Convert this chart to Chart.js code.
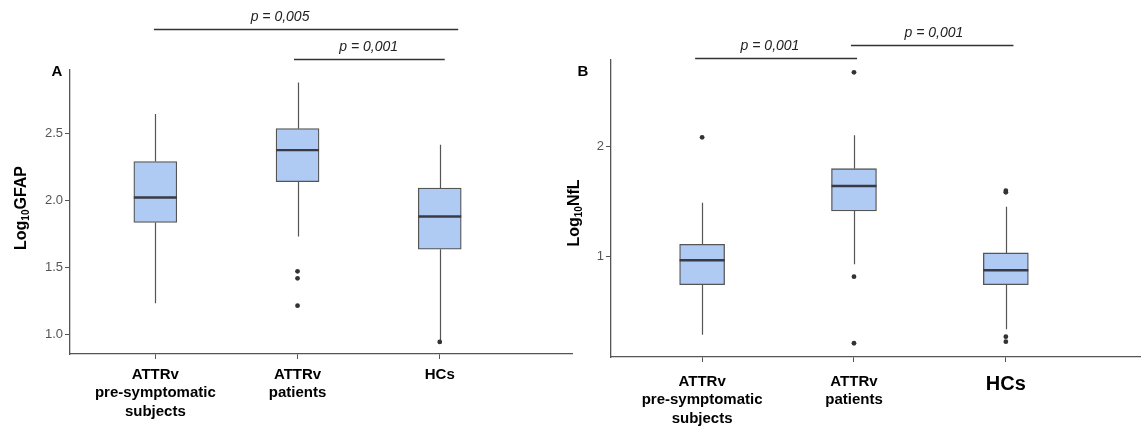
<!DOCTYPE html>
<html>
<head>
<meta charset="utf-8">
<script src="https://cdn.jsdelivr.net/npm/chart.js@4/dist/chart.umd.min.js"></script>
<style>
  html, body { margin: 0; padding: 0; background: #fff; }
  body { width: 1141px; height: 427px; position: relative; overflow: hidden; }
  canvas { position: absolute; top: 0; }
  #chartA { left: 0; }
  #chartB { left: 556px; }
</style>
</head>
<body>
<canvas id="chartA" width="576" height="427"></canvas>
<canvas id="chartB" width="589" height="427"></canvas>
<script>
const groupLabels = [
  ['ATTRv', 'pre-symptomatic', 'subjects'],
  ['ATTRv', 'patients'],
  ['HCs'],
];

// panel A: Log10 GFAP
const gfapLow = [1.234, 1.731, 0.96];
const gfapQ1 = [1.836, 2.14, 1.637];
const gfapMedian = [2.022, 2.375, 1.88];
const gfapQ3 = [2.29, 2.535, 2.092];
const gfapHigh = [2.645, 2.878, 2.415];
const gfapOutliers = [[], [1.472, 1.42, 1.216], [0.946]];
const gfapTicks = [1.0, 1.5, 2.0, 2.5];

// panel B: Log10 NfL
const nflLow = [0.29, 0.931, 0.34];
const nflQ1 = [0.745, 1.415, 0.745];
const nflMedian = [0.967, 1.643, 0.876];
const nflQ3 = [1.113, 1.80, 1.034];
const nflHigh = [1.49, 2.104, 1.455];
const nflOutliers = [[2.085], [2.676, 0.818, 0.213], [1.60, 1.585, 0.273, 0.227]];
const nflTicks = [1, 2];

// significance brackets (x in group units, y in axis units)
const gfapBrackets = [
  { x1: -0.01, x2: 2.13, y: 3.276, textX: 0.877, label: 'p = 0,005' },
  { x1: 0.975, x2: 2.035, y: 3.054, textX: 1.50, label: 'p = 0,001' },
];
const nflBrackets = [
  { x1: -0.046, x2: 1.02, y: 2.806, textX: 0.447, label: 'p = 0,001' },
  { x1: 0.98, x2: 2.05, y: 2.925, textX: 1.526, label: 'p = 0,001' },
];

const FONT = '"Liberation Sans", Arial, Helvetica, sans-serif';
const BOX_FILL = '#afcbf3';
const LINE = '#555555';

function outlierPoints(outliers) {
  const pts = [];
  outliers.forEach((list, i) => {
    list.forEach((v) => pts.push({ x: i, y: v }));
  });
  return pts;
}

const boxPlugin = {
  id: 'boxParts',
  beforeDatasetsDraw(chart) {
    const cfg = chart.options.plugins.boxParts;
    const xs = chart.scales.x;
    const ys = chart.scales.y;
    const ctx = chart.ctx;
    ctx.save();
    ctx.strokeStyle = LINE;
    ctx.lineWidth = 1.2;
    cfg.low.forEach((lo, i) => {
      const x = Math.round(xs.getPixelForValue(i)) + 0.5;
      ctx.beginPath();
      ctx.moveTo(x, ys.getPixelForValue(lo));
      ctx.lineTo(x, ys.getPixelForValue(cfg.q1[i]));
      ctx.moveTo(x, ys.getPixelForValue(cfg.q3[i]));
      ctx.lineTo(x, ys.getPixelForValue(cfg.high[i]));
      ctx.stroke();
    });
    ctx.restore();
  },
  afterDatasetsDraw(chart) {
    const cfg = chart.options.plugins.boxParts;
    const xs = chart.scales.x;
    const ys = chart.scales.y;
    const ctx = chart.ctx;
    ctx.save();
    ctx.strokeStyle = '#383b45';
    ctx.lineWidth = 2.4;
    cfg.median.forEach((m, i) => {
      const x = xs.getPixelForValue(i);
      const y = ys.getPixelForValue(m);
      ctx.beginPath();
      ctx.moveTo(x - cfg.width / 2, y);
      ctx.lineTo(x + cfg.width / 2, y);
      ctx.stroke();
    });
    ctx.restore();
  },
  afterDraw(chart) {
    const cfg = chart.options.plugins.boxParts;
    const xs = chart.scales.x;
    const ys = chart.scales.y;
    const ctx = chart.ctx;
    ctx.save();

    // brackets with p values
    ctx.strokeStyle = '#333';
    ctx.lineWidth = 1.3;
    ctx.fillStyle = '#222';
    ctx.font = 'italic 14px ' + FONT;
    ctx.textAlign = 'center';
    ctx.textBaseline = 'middle';
    cfg.brackets.forEach((b) => {
      const y = Math.round(ys.getPixelForValue(b.y)) + 0.5;
      ctx.beginPath();
      ctx.moveTo(xs.getPixelForValue(b.x1), y);
      ctx.lineTo(xs.getPixelForValue(b.x2), y);
      ctx.stroke();
      ctx.fillText(b.label, xs.getPixelForValue(b.textX), y - 12);
    });

    // panel letter
    ctx.fillStyle = '#000';
    ctx.font = 'bold 15px ' + FONT;
    ctx.fillText(cfg.letter, cfg.letterX, 72);

    // y axis title with subscript
    ctx.translate(cfg.titleX, cfg.titleY);
    ctx.rotate(-Math.PI / 2);
    const big = 'bold 16px ' + FONT;
    const small = 'bold 10px ' + FONT;
    ctx.font = big;
    const w1 = ctx.measureText('Log').width;
    const w3 = ctx.measureText(cfg.titleName).width;
    ctx.font = small;
    const w2 = ctx.measureText('10').width;
    let x = -(w1 + w2 + w3) / 2;
    ctx.textAlign = 'left';
    ctx.textBaseline = 'alphabetic';
    ctx.font = big;
    ctx.fillText('Log', x, 6);
    x += w1;
    ctx.font = small;
    ctx.fillText('10', x, 9);
    x += w2;
    ctx.font = big;
    ctx.fillText(cfg.titleName, x, 6);
    ctx.restore();
  },
};

function makeChart(canvasId, opts) {
  return new Chart(document.getElementById(canvasId), {
    type: 'bar',
    data: {
      datasets: [
        {
          type: 'bar',
          data: opts.q1.map((q, i) => ({ x: i, y: [q, opts.q3[i]] })),
          backgroundColor: BOX_FILL,
          borderColor: LINE,
          borderWidth: 1.3,
          borderSkipped: false,
          barThickness: opts.boxWidth,
        },
        {
          type: 'scatter',
          data: outlierPoints(opts.outliers),
          pointRadius: 2.4,
          pointBackgroundColor: '#333',
          pointBorderWidth: 0,
        },
      ],
    },
    options: {
      responsive: false,
      animation: false,
      devicePixelRatio: 1,
      layout: { padding: opts.padding },
      plugins: {
        legend: { display: false },
        tooltip: { enabled: false },
        boxParts: {
          low: opts.low,
          q1: opts.q1,
          median: opts.median,
          q3: opts.q3,
          high: opts.high,
          width: opts.boxWidth,
          brackets: opts.brackets,
          letter: opts.letter,
          letterX: opts.letterX,
          titleName: opts.titleName,
          titleX: opts.titleX,
          titleY: opts.titleY,
        },
      },
      scales: {
        x: {
          type: 'linear',
          min: -0.6,
          max: opts.xMax,
          offset: false,
          grid: { drawOnChartArea: false, tickLength: 5, color: LINE, offset: false },
          border: { color: LINE, width: 1.3 },
          afterBuildTicks(scale) {
            scale.ticks = groupLabels.map((_, i) => ({ value: i }));
          },
          afterFit(scale) {
            scale.height = opts.xHeight;
            scale.paddingLeft = 0;
            scale.paddingRight = 0;
          },
          ticks: {
            autoSkip: false,
            maxRotation: 0,
            padding: opts.xPad,
            color: '#000',
            font: (c) => ({
              family: FONT,
              weight: 'bold',
              size: c.index === 2 ? opts.lastLabelSize : 15,
              lineHeight: 1.25,
            }),
            callback: (value) => groupLabels[value],
          },
        },
        y: {
          min: opts.yMin,
          max: opts.yMax,
          grid: { drawOnChartArea: false, tickLength: 5, color: LINE },
          border: { color: LINE, width: 1.3 },
          afterBuildTicks(scale) {
            scale.ticks = opts.yTicks.map((v) => ({ value: v }));
          },
          afterFit(scale) {
            scale.width = opts.yWidth;
            scale.paddingTop = 0;
            scale.paddingBottom = 0;
          },
          ticks: {
            padding: 2,
            color: '#555',
            font: { family: FONT, size: 13 },
            callback: (value) => opts.tickFormat(value),
          },
        },
      },
    },
    plugins: [boxPlugin],
  });
}

makeChart('chartA', {
  low: gfapLow, q1: gfapQ1, median: gfapMedian, q3: gfapQ3, high: gfapHigh,
  outliers: gfapOutliers, brackets: gfapBrackets,
  boxWidth: 43, xMax: 2.93, yMin: 0.856, yMax: 2.972, yTicks: gfapTicks,
  tickFormat: (v) => v.toFixed(1),
  padding: { top: 70, left: 0, right: 3, bottom: 0 },
  yWidth: 70, xHeight: 73, xPad: 6, lastLabelSize: 15,
  letter: 'A', letterX: 57, titleName: 'GFAP', titleX: 20, titleY: 208,
});

makeChart('chartB', {
  low: nflLow, q1: nflQ1, median: nflMedian, q3: nflQ3, high: nflHigh,
  outliers: nflOutliers, brackets: nflBrackets,
  boxWidth: 45, xMax: 2.89, yMin: 0.088, yMax: 2.788, yTicks: nflTicks,
  tickFormat: (v) => String(v),
  padding: { top: 60, left: 0, right: 0, bottom: 0 },
  yWidth: 55, xHeight: 70, xPad: 10, lastLabelSize: 20,
  letter: 'B', letterX: 27, titleName: 'NfL', titleX: 17, titleY: 213,
});
</script>
</body>
</html>
